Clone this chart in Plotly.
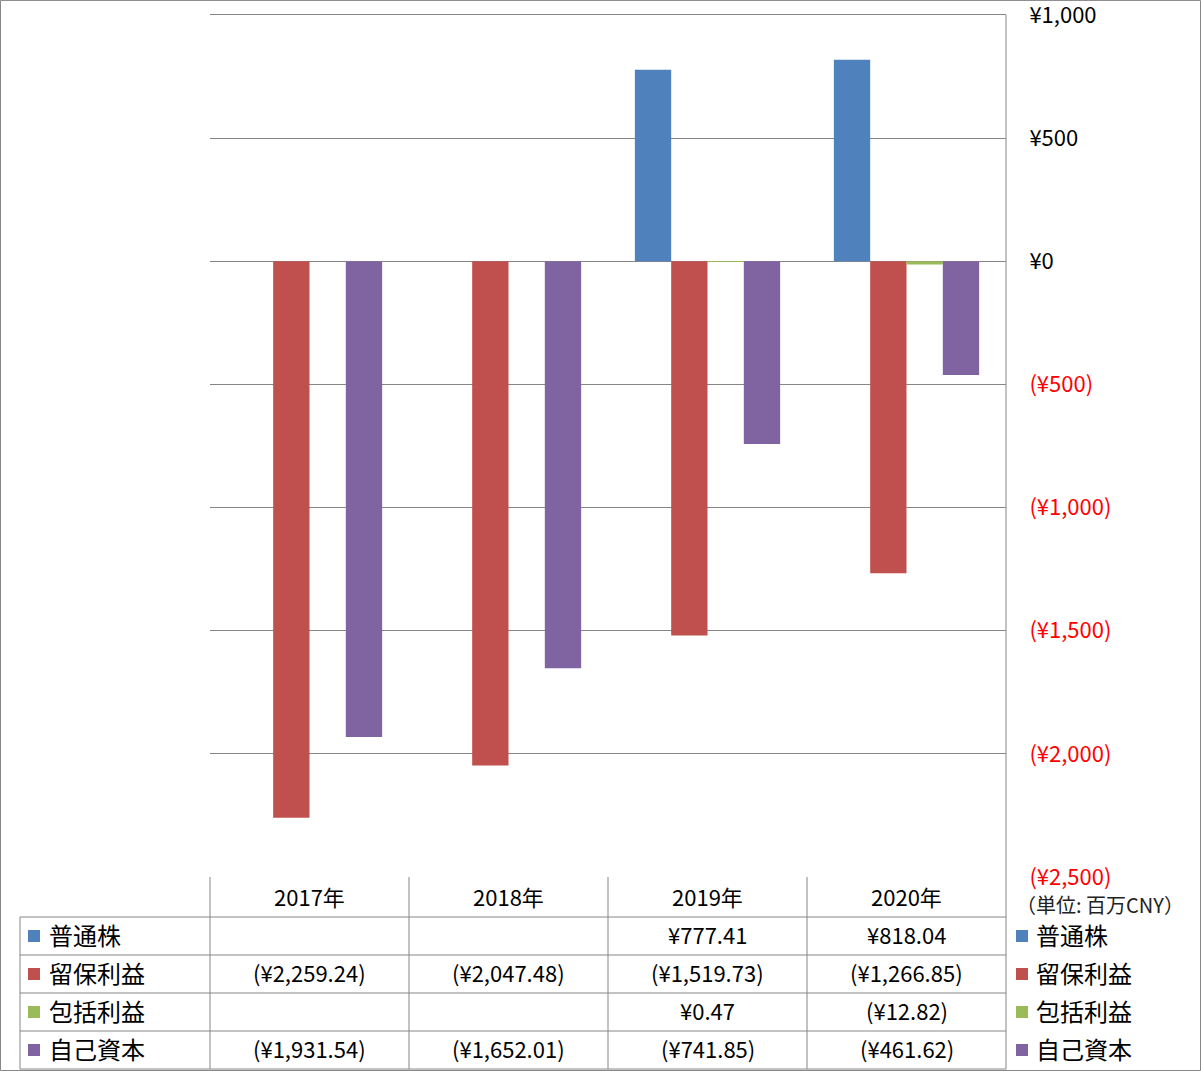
import plotly.graph_objects as go

# ---- data ----
years = ["2017年", "2018年", "2019年", "2020年"]
series_names = ["普通株", "留保利益", "包括利益", "自己資本"]
common_stock = [None, None, 777.41, 818.04]
retained_earnings = [-2259.24, -2047.48, -1519.73, -1266.85]
comprehensive_income = [None, None, 0.47, -12.82]
treasury_stock = [-1931.54, -1652.01, -741.85, -461.62]
tick_values = [1000, 500, 0, -500, -1000, -1500, -2000, -2500]
unit_label = "（単位: 百万CNY）"

series_values = [common_stock, retained_earnings, comprehensive_income, treasury_stock]
colors = ["#4F81BD", "#C0504D", "#9BBB59", "#8064A2"]

W, H = 1201, 1071
Y_MIN, Y_MAX, Y_TOP_TICK = -2500, 1020, 1000
L, R, B = 210, 1006, 877          # plot area pixels
TOP_TICK_PX = 15                   # pixel of the 1,000 gridline
SCALE = (B - TOP_TICK_PX) / (Y_TOP_TICK - Y_MIN)
T = TOP_TICK_PX - (Y_MAX - Y_TOP_TICK) * SCALE
FONT = "Noto Sans CJK JP"


def px_x(x):
    return (x - L) / (R - L)


def px_y(y):
    return (B - y) / (B - T)


def fmt_val(v):
    if v is None:
        return ""
    if v < 0:
        return "(¥{:,.2f})".format(-v)
    return "¥{:,.2f}".format(v)


def fmt_tick(v):
    if v < 0:
        return "<span style='color:#FF0000'>(¥{:,.0f})</span>".format(-v)
    return "¥{:,.0f}".format(v)


fig = go.Figure()
for name, vals, col in zip(series_names, series_values, colors):
    fig.add_trace(go.Bar(
        x=years, y=[v if v is not None else 0 for v in vals], name=name,
        marker=dict(color=col, line=dict(width=0)), hoverinfo="skip",
    ))

shapes = []
annotations = []
GRID = "#868686"

# figure border
shapes.append(dict(type="rect", xref="paper", yref="paper",
                   x0=px_x(0.5), x1=px_x(1200.5), y0=px_y(1070.5), y1=px_y(0.5),
                   line=dict(color=GRID, width=1)))
# right vertical line (axis + table border)
shapes.append(dict(type="line", xref="paper", yref="paper",
                   x0=1, x1=1, y0=px_y(1069), y1=px_y(TOP_TICK_PX),
                   line=dict(color=GRID, width=1)))

header_y = 896
row_tops = [917, 955, 993, 1031]
row_h = 38
text_dy = -2
table_bottom = 1069
# horizontal lines of table
for yy in row_tops + [table_bottom]:
    shapes.append(dict(type="line", xref="paper", yref="paper",
                       x0=px_x(20), x1=1, y0=px_y(yy), y1=px_y(yy),
                       line=dict(color=GRID, width=1)))
# vertical lines in table
col_w = (R - L) / len(years)
for i in range(len(years)):
    xx = L + i * col_w
    shapes.append(dict(type="line", xref="paper", yref="paper",
                       x0=px_x(xx), x1=px_x(xx), y0=px_y(table_bottom), y1=0,
                       line=dict(color=GRID, width=1)))
shapes.append(dict(type="line", xref="paper", yref="paper",
                   x0=px_x(20), x1=px_x(20), y0=px_y(table_bottom), y1=px_y(917),
                   line=dict(color=GRID, width=1)))

# header
for yr in years:
    annotations.append(dict(x=yr, xref="x", y=px_y(header_y), yref="paper",
                            text=yr, showarrow=False, xanchor="center", yanchor="middle",
                            font=dict(family=FONT, size=22, color="#000000")))

# rows
for r, (name, vals, col) in enumerate(zip(series_names, series_values, colors)):
    cy = row_tops[r] + row_h / 2
    ty = cy + text_dy
    # left legend key
    shapes.append(dict(type="rect", xref="paper", yref="paper",
                       x0=px_x(28), x1=px_x(40), y0=px_y(cy + 6), y1=px_y(cy - 6),
                       fillcolor=col, line=dict(width=0)))
    annotations.append(dict(x=px_x(47), xref="paper", y=px_y(ty), yref="paper",
                            text=name, showarrow=False, xanchor="left", yanchor="middle",
                            font=dict(family=FONT, size=24, color="#000000")))
    # right legend
    shapes.append(dict(type="rect", xref="paper", yref="paper",
                       x0=px_x(1016), x1=px_x(1028), y0=px_y(cy + 6), y1=px_y(cy - 6),
                       fillcolor=col, line=dict(width=0)))
    annotations.append(dict(x=px_x(1034), xref="paper", y=px_y(ty), yref="paper",
                            text=name, showarrow=False, xanchor="left", yanchor="middle",
                            font=dict(family=FONT, size=24, color="#000000")))
    for yr, v in zip(years, vals):
        annotations.append(dict(x=yr, xref="x", y=px_y(ty), yref="paper",
                                text=fmt_val(v), showarrow=False, xanchor="center",
                                yanchor="middle",
                                font=dict(family=FONT, size=22, color="#000000")))

annotations.append(dict(x=px_x(1014), xref="paper", y=px_y(904), yref="paper",
                        text=unit_label, showarrow=False, xanchor="left", yanchor="middle",
                        font=dict(family=FONT, size=20, color="#222222")))

fig.update_layout(
    width=W, height=H,
    margin=dict(l=L, r=W - R, t=T, b=H - B, pad=0, autoexpand=False),
    paper_bgcolor="#FFFFFF", plot_bgcolor="#FFFFFF",
    barmode="group", bargap=0.27, bargroupgap=0,
    showlegend=False,
    font=dict(family=FONT, size=22, color="#000000"),
    shapes=shapes, annotations=annotations,
    xaxis=dict(type="category", categoryarray=years, showticklabels=False,
               showgrid=False, zeroline=False, showline=False, ticks="",
               automargin=False),
    yaxis=dict(range=[Y_MIN, Y_MAX], side="right", tickvals=tick_values,
               ticktext=[fmt_tick(v) for v in tick_values],
               ticklabeloverflow="allow", automargin=False,
               showgrid=True, gridcolor=GRID, gridwidth=1, zeroline=False,
               showline=False, ticks="outside", ticklen=18, tickcolor="rgba(0,0,0,0)",
               tickfont=dict(family=FONT, size=22, color="#000000")),
)

fig.write_html("out.html", config={"displayModeBar": False},
               post_script="document.body.style.margin='0';document.body.style.padding='0';")
